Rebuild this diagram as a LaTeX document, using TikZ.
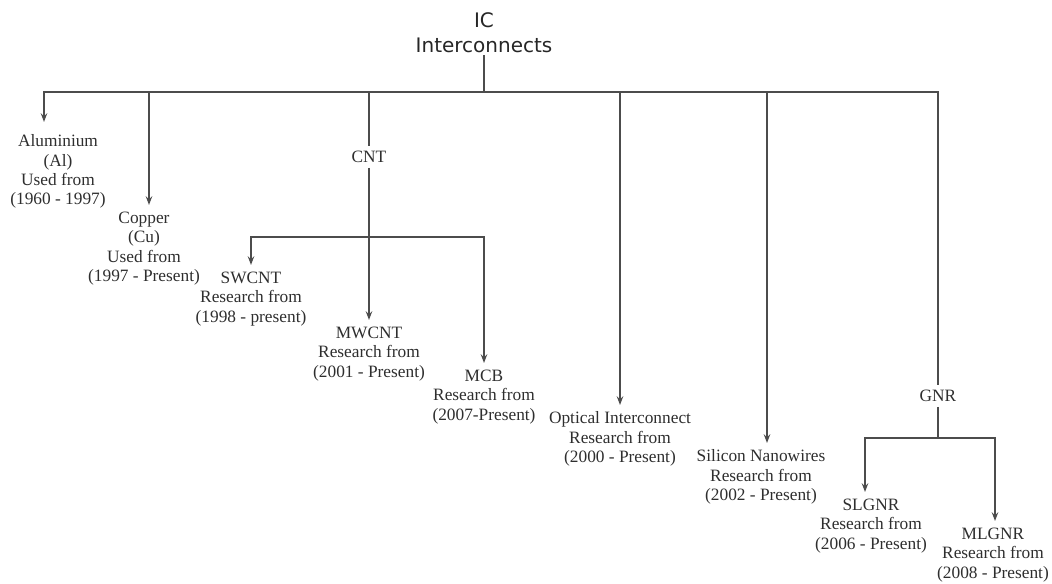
\documentclass[tikz,border=0pt]{standalone}
\usepackage{fontspec}
\setmainfont{Liberation Serif}
\newfontfamily\headfont{DejaVu Sans}
\usepackage{tikz}
\usetikzlibrary{arrows.meta,positioning,calc}

\begin{document}
\begin{tikzpicture}[x=0.75pt,y=-0.75pt,
		link/.style={line width=1.2pt, draw=black!70},
		arr/.style={link, -{Stealth[length=6.5pt,width=4.8pt]}},
		leaf/.style={align=center, inner xsep=0pt, inner ysep=5pt, anchor=north, text=black!82,
			font=\fontsize{13}{14.5}\selectfont},
		mid/.style={inner sep=3.5pt, text=black!82, font=\fontsize{13}{14.5}\selectfont},
		head/.style={align=center, inner sep=1.5pt, anchor=south, text=black!85,
			font=\headfont\fontsize{15}{19}\selectfont}]
		\useasboundingbox (0,0) rectangle (1052,583);
		% root
		\node [head](ic) at (484,55) {IC\\Interconnects};
		\coordinate (bus) at (484,92);
		% first level
		\node [leaf](al) at (58,128) {Aluminium\\(Al)\\Used from\\(1960 - 1997)};
		\node [leaf](cu) at (144,205) {Copper\\(Cu)\\Used from\\(1997 - Present)};
		\node [mid](cnt) at (369,157) {CNT};
		\node [leaf](opt) at (620,405) {Optical Interconnect\\Research from\\(2000 - Present)};
		\node [leaf](si) at (761,443) {Silicon Nanowires\\Research from\\(2002 - Present)};
		\node [mid](gnr) at (938,396) {GNR};
		% CNT branch
		\coordinate (cntbus) at (369,237);
		\node [leaf](sw) at (251,265) {SWCNT\\Research from\\(1998 - present)};
		\node [leaf](mw) at (369,320) {MWCNT\\Research from\\(2001 - Present)};
		\node [leaf](mcb) at (484,363) {MCB\\Research from\\(2007-Present)};
		% GNR branch
		\coordinate (gnrbus) at (938,438);
		\node [leaf](sl) at (871,492) {SLGNR\\Research from\\(2006 - Present)};
		\node [leaf](ml) at (993,521) {MLGNR\\Research from\\(2008 - Present)};
		% connectors
		\draw [link] (ic.south) -- (bus);
		\draw [arr] (bus) -| ([xshift=-10.5pt,yshift=4.5pt]al.north);
		\draw [arr] (bus) -| ([xshift=3.75pt]cu.north);
		\draw [link] (bus) -| (cnt.north);
		\draw [arr] (bus) -| (opt.north);
		\draw [arr] (bus) -| ([xshift=4.5pt]si.north);
		\draw [link] (bus) -| (gnr.north);
		\draw [arr] (cnt.south) -- (mw.north);
		\draw [arr] (cntbus) -| (sw.north);
		\draw [arr] (cntbus) -| (mcb.north);
		\draw [link] (gnr.south) -- (gnrbus);
		\draw [arr] (gnrbus) -| ([xshift=-4.5pt]sl.north);
		\draw [arr] (gnrbus) -| ([xshift=1.5pt]ml.north);
\end{tikzpicture}
\end{document}
